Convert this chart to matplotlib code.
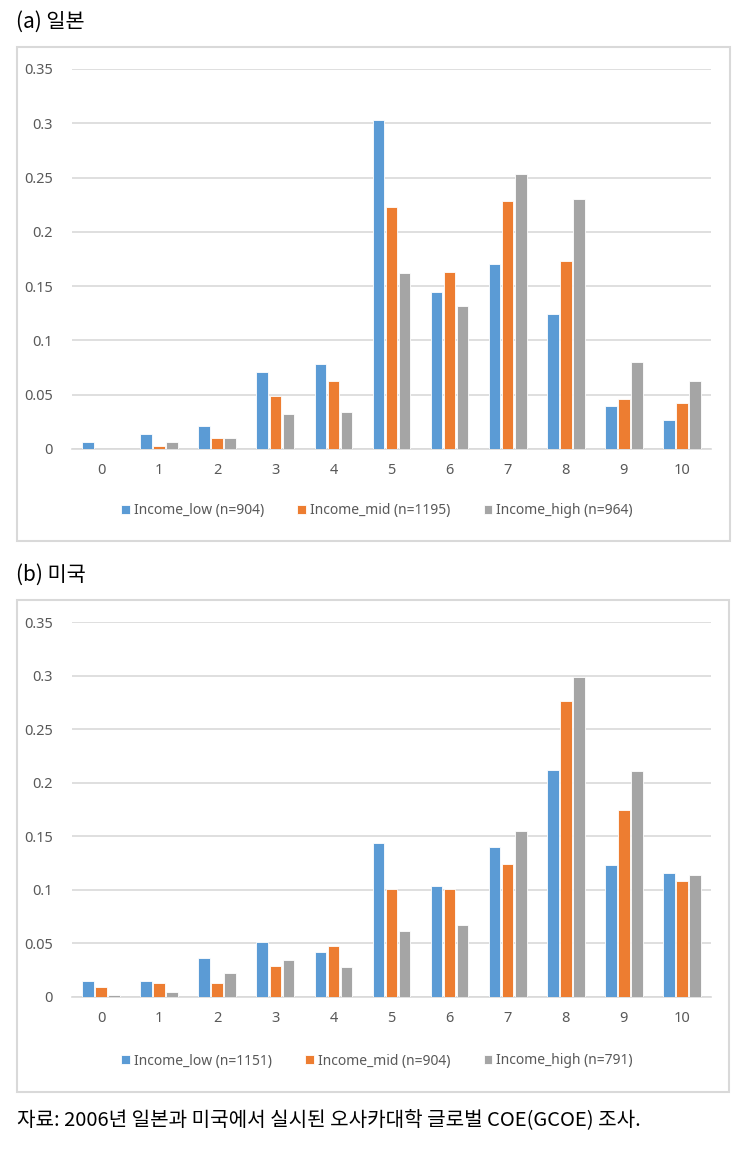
import matplotlib.pyplot as plt
import numpy as np
from matplotlib.patches import Rectangle

plt.rcParams['font.family'] = ['Noto Sans', 'Noto Sans CJK KR', 'DejaVu Sans']

# scores 0..10
categories = [str(i) for i in range(11)]

# (a) Japan
jp_low = [0.006, 0.014, 0.021, 0.071, 0.078, 0.303, 0.145, 0.170, 0.124, 0.040, 0.027]
jp_mid = [0.0, 0.003, 0.010, 0.049, 0.063, 0.223, 0.163, 0.228, 0.173, 0.046, 0.042]
jp_high = [0.0, 0.006, 0.010, 0.032, 0.034, 0.162, 0.132, 0.253, 0.230, 0.080, 0.063]
jp_labels = ['Income_low (n=904)', 'Income_mid (n=1195)', 'Income_high (n=964)']

# (b) USA
us_low = [0.015, 0.015, 0.036, 0.051, 0.042, 0.144, 0.104, 0.140, 0.212, 0.123, 0.116]
us_mid = [0.009, 0.013, 0.013, 0.029, 0.048, 0.101, 0.101, 0.124, 0.276, 0.175, 0.108]
us_high = [0.002, 0.005, 0.022, 0.035, 0.028, 0.062, 0.067, 0.155, 0.299, 0.211, 0.114]
us_labels = ['Income_low (n=1151)', 'Income_mid (n=904)', 'Income_high (n=791)']

colors = ['#5B9BD5', '#ED7D31', '#A5A5A5']
yticks = [0, 0.05, 0.1, 0.15, 0.2, 0.25, 0.3, 0.35]
ytick_labels = ['0', '0.05', '0.1', '0.15', '0.2', '0.25', '0.3', '0.35']

W, H = 742, 1153
fig = plt.figure(figsize=(W / 100, H / 100), dpi=100)


def px_axes(left, top, right, bottom):
    return fig.add_axes([left / W, 1 - bottom / H, (right - left) / W, (bottom - top) / H])


def frame(left, top, right, bottom):
    fig.add_artist(Rectangle((left / W, 1 - bottom / H), (right - left) / W, (bottom - top) / H,
                             transform=fig.transFigure, fill=False,
                             edgecolor='#D9D9D9', linewidth=1.5))


def draw(ax, series, labels, legend_y):
    x = np.arange(len(categories))
    handles = []
    for i, (vals, lab) in enumerate(zip(series, labels)):
        b = ax.bar(x + (i - 1) * 0.224, vals, width=0.2, color=colors[i],
                   edgecolor='white', linewidth=0.6, label=lab, zorder=3)
        handles.append(b)
    ax.set_xlim(-0.5, 10.5)
    ax.set_ylim(0, 0.35)
    ax.set_yticks(yticks)
    ax.set_yticklabels(ytick_labels)
    ax.set_xticks(x)
    ax.set_xticklabels(categories)
    ax.grid(axis='y', color='#D9D9D9', linewidth=1.2, zorder=0)
    for s in ['top', 'right', 'left']:
        ax.spines[s].set_visible(False)
    ax.spines['bottom'].set_color('#D9D9D9')
    ax.spines['bottom'].set_linewidth(1.2)
    ax.tick_params(length=0, colors='#595959', labelsize=10.5)
    ax.tick_params(axis='x', pad=10)
    ax.tick_params(axis='y', pad=14)
    fig.legend(handles=handles, loc='center', bbox_to_anchor=(377 / W, 1 - legend_y / H),
               ncol=3, frameon=False, fontsize=10, handlelength=0.6, handleheight=0.6,
               handletextpad=0.3, columnspacing=2.4, labelcolor='#595959')


frame(17, 47, 730, 541)
frame(17, 600, 729, 1092)

ax1 = px_axes(72, 69, 711, 449)
draw(ax1, [jp_low, jp_mid, jp_high], jp_labels, 511)

ax2 = px_axes(72, 622, 711, 997)
draw(ax2, [us_low, us_mid, us_high], us_labels, 1061)

fig.text(16 / W, 1 - 22 / H, '(a) 일본', fontsize=15, va='center', ha='left',
         family=['Noto Sans CJK KR', 'DejaVu Sans'])
fig.text(16 / W, 1 - 575 / H, '(b) 미국', fontsize=15, va='center', ha='left',
         family=['Noto Sans CJK KR', 'DejaVu Sans'])
fig.text(17 / W, 1 - 1120 / H, '자료: 2006년 일본과 미국에서 실시된 오사카대학 글로벌 COE(GCOE) 조사.',
         fontsize=14.5, va='center', ha='left', family=['Noto Sans CJK KR', 'DejaVu Sans'])

fig.savefig('out.png', dpi=100)
